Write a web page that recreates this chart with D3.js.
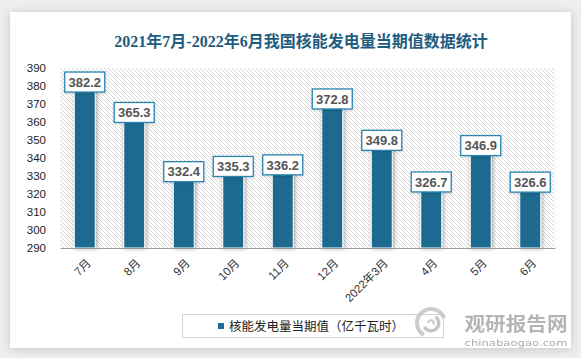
<!DOCTYPE html>
<html><head><meta charset="utf-8">
<script src="https://cdn.jsdelivr.net/npm/d3@7"></script>
<style>html,body{margin:0;padding:0;background:#eeeeee;overflow:hidden}svg{display:block}</style>
</head><body><svg id="c" width="581" height="358"></svg>
<script>
const title = "2021年7月-2022年6月我国核能发电量当期值数据统计";
const categories = ["7月","8月","9月","10月","11月","12月","2022年3月","4月","5月","6月"];
const values = [382.2,365.3,332.4,335.3,336.2,372.8,349.8,326.7,346.9,326.6];
const yTicks = [290,300,310,320,330,340,350,360,370,380,390];
const seriesName = "核能发电量当期值（亿千瓦时）";
const watermarkCn = "观研报告网";
const watermarkEn = "chinabaogao.com";

const W = 581, H = 358;
const svg = d3.select("#c");
const defs = svg.append("defs");

const fc = defs.append("filter").attr("id","cardShadow").attr("x","-5%").attr("y","-5%").attr("width","110%").attr("height","110%");
fc.append("feDropShadow").attr("dx",0).attr("dy",1).attr("stdDeviation",4).attr("flood-color","#000").attr("flood-opacity",0.18);

const fb = defs.append("filter").attr("id","barShadow").attr("x","-50%").attr("y","-20%").attr("width","200%").attr("height","140%");
fb.append("feDropShadow").attr("dx",1).attr("dy",0).attr("stdDeviation",2.2).attr("flood-color","#000").attr("flood-opacity",0.38);

const fl = defs.append("filter").attr("id","lblShadow").attr("x","-20%").attr("y","-30%").attr("width","140%").attr("height","160%");
fl.append("feDropShadow").attr("dx",0).attr("dy",1).attr("stdDeviation",1).attr("flood-color","#000").attr("flood-opacity",0.15);

const pat = defs.append("pattern").attr("id","hatch").attr("patternUnits","userSpaceOnUse").attr("width",4).attr("height",4);
pat.append("rect").attr("width",4).attr("height",4).attr("fill","#ffffff");
pat.append("path").attr("d","M-1,-1L5,5M-1,3L1,5M3,-1L5,1").attr("stroke","#d2d2d2").attr("stroke-width",0.9);

svg.append("rect").attr("x",10).attr("y",12).attr("width",561).attr("height",336)
  .attr("fill","#fff").attr("filter","url(#cardShadow)");

svg.append("text").attr("x",301).attr("y",47).attr("text-anchor","middle")
  .attr("font-family","'Liberation Serif','Noto Sans CJK SC',serif").attr("font-weight","bold")
  .attr("font-size",16).attr("fill","#1f5d7f").text(title);

const plot = {left:60, right:555, top:68, bottom:248};
const x = d3.scaleBand().domain(categories).range([plot.left, plot.right]).paddingInner(0.576).paddingOuter(0.288);
const y = d3.scaleLinear().domain([290,390]).range([plot.bottom, plot.top]);

svg.append("rect").attr("x",plot.left).attr("y",plot.top)
  .attr("width",plot.right-plot.left).attr("height",plot.bottom-plot.top).attr("fill","url(#hatch)");

const yAxis = d3.axisLeft(y).tickValues(yTicks).tickSize(0).tickPadding(14).tickFormat(d3.format("d"));
const gy = svg.append("g").attr("transform",`translate(${plot.left},0)`).call(yAxis);
gy.select(".domain").remove();
gy.selectAll("text").attr("font-family","'Liberation Sans','DejaVu Sans',sans-serif").attr("font-size",11.5).attr("fill","#222");

svg.append("g").selectAll("rect").data(values).join("rect")
  .attr("x",(d,i)=>x(categories[i]))
  .attr("y",d=>y(d))
  .attr("width",x.bandwidth())
  .attr("height",d=>plot.bottom - y(d))
  .attr("fill","#1d6b8f").attr("stroke","#fff").attr("stroke-width",1)
  .attr("filter","url(#barShadow)");

const xAxis = d3.axisBottom(x).tickSize(0).tickPadding(0);
const gx = svg.append("g").attr("transform",`translate(0,${plot.bottom})`).call(xAxis);
gx.select(".domain").attr("stroke","#9a9a9a").attr("stroke-width",1.2);
gx.selectAll("text")
  .attr("font-family","'Liberation Sans','Noto Sans CJK SC',sans-serif").attr("font-size",11.5).attr("fill","#333")
  .attr("text-anchor","end").attr("dy","0.35em")
  .attr("transform","translate(4,13) rotate(-45)");

const lg = svg.append("g").selectAll("g").data(values).join("g")
  .attr("transform",(d,i)=>`translate(${x(categories[i]) + x.bandwidth()/2},${y(d)})`);
lg.append("rect").attr("x",-20).attr("y",-10).attr("width",40).attr("height",20)
  .attr("fill","#fff").attr("stroke","#2a85b3").attr("stroke-width",1.3).attr("filter","url(#lblShadow)");
lg.append("text").attr("text-anchor","middle").attr("dy","0.36em")
  .attr("font-family","'Liberation Sans','DejaVu Sans',sans-serif").attr("font-weight","bold")
  .attr("font-size",13).attr("fill","#555").text(d=>d.toFixed(1));

svg.append("rect").attr("x",182.5).attr("y",314.5).attr("width",261).attr("height",23)
  .attr("fill","#fff").attr("stroke","#d4d4d4").attr("stroke-width",1);
svg.append("rect").attr("x",218).attr("y",323).attr("width",6).attr("height",6).attr("fill","#1d6b8f");
svg.append("text").attr("x",229).attr("y",330.5)
  .attr("font-family","'Noto Sans CJK SC',sans-serif").attr("font-size",12.5).attr("fill","#222").text(seriesName);

const wm = svg.append("g").attr("opacity",0.85);
const logo = wm.append("g").attr("transform","translate(431,323)");
logo.append("path").attr("d",d3.arc()({innerRadius:12,outerRadius:16,startAngle:-2.6,endAngle:1.2})).attr("fill","#c4c4c4");
logo.append("path").attr("d",d3.arc()({innerRadius:6,outerRadius:9.5,startAngle:0.6,endAngle:4.2})).attr("fill","#bdbdbd");
logo.append("path").attr("d",d3.arc()({innerRadius:1.5,outerRadius:4,startAngle:-1.5,endAngle:2.2})).attr("fill","#c8c8c8");
wm.append("text").attr("x",516).attr("y",330.5).attr("text-anchor","middle")
  .attr("font-family","'Noto Sans CJK SC',sans-serif").attr("font-weight","bold")
  .attr("font-size",19).attr("fill","#a8a8a8").attr("textLength",103).attr("lengthAdjust","spacingAndGlyphs").text(watermarkCn);
wm.append("text").attr("x",516).attr("y",346).attr("text-anchor","middle")
  .attr("font-family","'DejaVu Sans',sans-serif")
  .attr("font-size",9.5).attr("fill","#9d9d9d").attr("textLength",103).attr("lengthAdjust","spacingAndGlyphs").text(watermarkEn);
</script></body></html>
